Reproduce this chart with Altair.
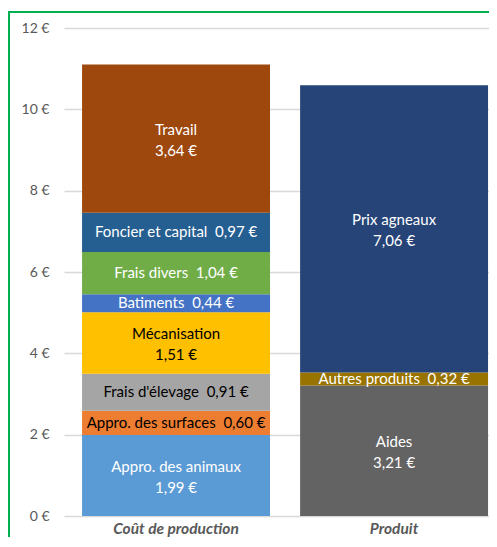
import altair as alt
import pandas as pd

categories = ["Coût de production"] * 8 + ["Produit"] * 3
segments = ["Appro. des animaux", "Appro. des surfaces", "Frais d'élevage", "Mécanisation",
            "Batiments", "Frais divers", "Foncier et capital", "Travail",
            "Aides", "Autres produits", "Prix agneaux"]
values = [1.99, 0.60, 0.91, 1.51, 0.44, 1.04, 0.97, 3.64, 3.21, 0.32, 7.06]
two_lines = [True, False, False, True, False, False, False, True, True, False, True]
colors = ["#5B9BD5", "#ED7D31", "#A5A5A5", "#FFC000", "#4472C4", "#70AD47", "#255E91",
          "#9E480E", "#636363", "#997300", "#264478"]
text_colors = ["#FFFFFF", "#000000", "#000000", "#000000", "#FFFFFF", "#FFFFFF", "#FFFFFF",
               "#FFFFFF", "#FFFFFF", "#FFFFFF", "#FFFFFF"]

rows = []
base = {}
for i, (c, s, v, t, tc) in enumerate(zip(categories, segments, values, two_lines, text_colors)):
    b = base.get(c, 0.0)
    vs = f"{v:.2f}".replace(".", ",") + " €"
    rows.append({"cat": c, "seg": s, "value": v, "order": i,
                 "mid": b + v / 2,
                 "label": (s + "\n" + vs) if t else (s + "\u00a0 " + vs),
                 "two": t,
                 "tcolor": tc})
    base[c] = b + v
df = pd.DataFrame(rows)

xscale = alt.Scale(paddingInner=0.138, paddingOuter=0.0436, align=0.95)
xenc = alt.X("cat:N", scale=xscale, sort=["Coût de production", "Produit"],
             axis=alt.Axis(title=None, labelAngle=0, ticks=False, domain=False,
                           labelFont="Lato", labelFontSize=15.5, labelFontWeight="bold",
                           labelFontStyle="italic", labelColor="#595959", labelPadding=5))

bars = alt.Chart(df).mark_bar().encode(
    x=xenc,
    y=alt.Y("sum(value):Q", scale=alt.Scale(domain=[0, 12]),
            axis=alt.Axis(title=None, values=[0, 2, 4, 6, 8, 10, 12],
                          labelExpr="datum.value + ' €'", ticks=False, domain=False,
                          gridColor="#D9D9D9", gridWidth=1.5,
                          labelFont="Lato", labelFontSize=14, labelColor="#595959",
                          labelPadding=15)),
    color=alt.Color("seg:N", scale=alt.Scale(domain=segments, range=colors), legend=None),
    order=alt.Order("order:Q"),
)

def text_layer(two, dy):
    return alt.Chart(df).transform_filter(
        "datum.two" if two else "!datum.two"
    ).mark_text(lineBreak="\n", font="Lato", fontSize=15, lineHeight=21,
                baseline="middle", dy=dy).encode(
        x=alt.X("cat:N", scale=xscale, sort=["Coût de production", "Produit"]),
        y=alt.Y("mid:Q"),
        text="label:N",
        color=alt.Color("tcolor:N", scale=None),
    )

texts1 = text_layer(False, 0)
texts2 = text_layer(True, -9)

frame = alt.Chart(pd.DataFrame({"a": [0]})).mark_rect(
    fill=None, stroke="#00B050", strokeWidth=2, clip=False).encode(
    x=alt.value(-55), x2=alt.value(520), y=alt.value(-16), y2=alt.value(560))

chart = alt.layer(frame, bars, texts1, texts2).properties(
    width=425, height=488,
    padding={"left": 56, "top": 20, "right": 0, "bottom": 21},
    autosize=alt.AutoSizeParams(type="none"),
).configure_view(stroke=None)

chart.save("out.html", embed_options={"renderer": "svg", "actions": False})
